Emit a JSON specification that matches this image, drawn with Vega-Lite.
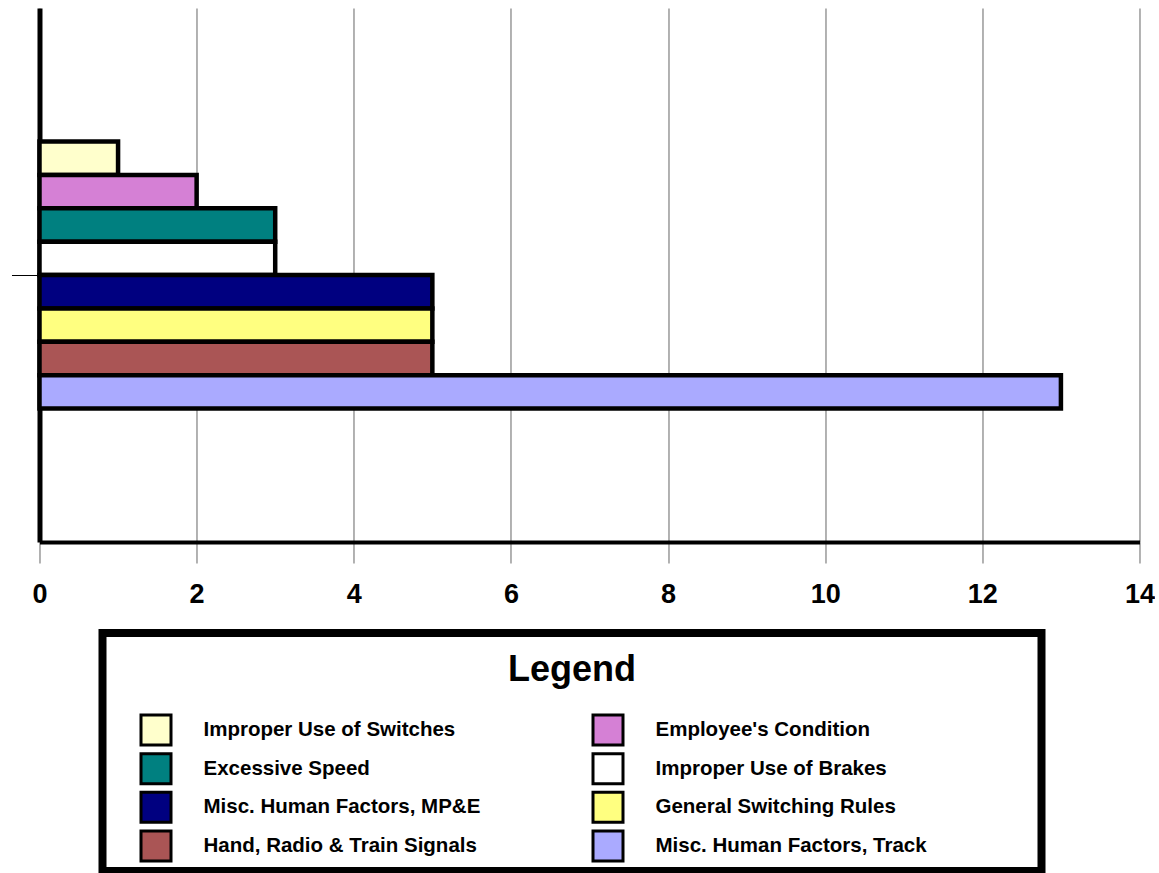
{
  "$schema": "https://vega.github.io/schema/vega-lite/v6.json",
  "padding": {"left": 10, "top": 8, "right": 0, "bottom": 0},
  "center": true,
  "spacing": 22,
  "datasets": {
    "causes": [
      {"order": 0, "cause": "Improper Use of Switches", "count": 1},
      {"order": 1, "cause": "Employee's Condition", "count": 2},
      {"order": 2, "cause": "Excessive Speed", "count": 3},
      {"order": 3, "cause": "Improper Use of Brakes", "count": 3},
      {"order": 4, "cause": "Misc. Human Factors, MP&E", "count": 5},
      {"order": 5, "cause": "General Switching Rules", "count": 5},
      {"order": 6, "cause": "Hand, Radio & Train Signals", "count": 5},
      {"order": 7, "cause": "Misc. Human Factors, Track", "count": 13}
    ]
  },
  "vconcat": [
    {
      "width": 1100,
      "height": 534,
      "data": {"name": "causes"},
      "mark": {"type": "bar", "stroke": "black", "strokeWidth": 4.5},
      "encoding": {
        "y": {
          "datum": "causes",
          "type": "nominal",
          "scale": {"paddingInner": 0, "paddingOuter": 0.5},
          "axis": {
            "title": null,
            "labels": false,
            "grid": false,
            "domain": true,
            "domainColor": "black",
            "domainWidth": 5,
            "ticks": true,
            "tickColor": "black",
            "tickWidth": 1,
            "tickSize": 28,
            "minExtent": 28,
            "maxExtent": 28
          }
        },
        "yOffset": {
          "field": "cause",
          "type": "nominal",
          "sort": {"field": "order"},
          "scale": {"paddingInner": 0, "paddingOuter": 0}
        },
        "x": {
          "field": "count",
          "type": "quantitative",
          "scale": {"domain": [0, 14], "nice": false},
          "axis": {
            "title": null,
            "values": [0, 2, 4, 6, 8, 10, 12, 14],
            "grid": true,
            "gridColor": "#666666",
            "gridWidth": 1,
            "domainColor": "black",
            "domainWidth": 4,
            "tickColor": "#666666",
            "tickWidth": 1,
            "tickSize": 21,
            "labelFont": "Liberation Sans",
            "labelFontWeight": "bold",
            "labelFontSize": 27,
            "labelColor": "black",
            "labelPadding": 18,
            "labelFlush": false,
            "labelOverlap": false
          }
        },
        "fill": {
          "field": "cause",
          "type": "nominal",
          "scale": {
            "domain": [
              "Improper Use of Switches",
              "Employee's Condition",
              "Excessive Speed",
              "Improper Use of Brakes",
              "Misc. Human Factors, MP&E",
              "General Switching Rules",
              "Hand, Radio & Train Signals",
              "Misc. Human Factors, Track"
            ],
            "range": ["#FFFFCC", "#D580D5", "#008080", "#FFFFFF", "#000080", "#FFFF80", "#AA5555", "#AAAAFF"]
          },
          "legend": null
        }
      }
    },
    {
      "width": 939,
      "height": 238,
      "view": {"stroke": "black", "strokeWidth": 8, "fill": "white"},
      "title": {
        "text": "Legend",
        "font": "Liberation Sans",
        "fontWeight": "bold",
        "fontSize": 36,
        "color": "black",
        "anchor": "middle",
        "frame": "group",
        "offset": -56
      },
      "data": {"name": "causes"},
      "transform": [
        {"calculate": "datum.order % 2", "as": "col"},
        {"calculate": "floor(datum.order / 2)", "as": "row"}
      ],
      "encoding": {
        "x": {
          "field": "col",
          "type": "quantitative",
          "scale": {"domain": [0, 1], "range": [53.5, 505.5]},
          "axis": null
        },
        "y": {
          "field": "row",
          "type": "quantitative",
          "scale": {"domain": [0, 3], "range": [97, 213]},
          "axis": {
            "orient": "right",
            "title": null,
            "labels": false,
            "ticks": false,
            "domain": false,
            "grid": false,
            "minExtent": 46,
            "maxExtent": 46
          }
        }
      },
      "layer": [
        {
          "mark": {"type": "square", "size": 900, "stroke": "black", "strokeWidth": 3, "opacity": 1, "filled": true},
          "encoding": {
            "fill": {"field": "cause", "type": "nominal", "legend": null}
          }
        },
        {
          "mark": {
            "type": "text",
            "align": "left",
            "baseline": "middle",
            "dx": 47.5,
            "font": "Liberation Sans",
            "fontWeight": "bold",
            "fontSize": 20.5,
            "color": "black"
          },
          "encoding": {"text": {"field": "cause"}}
        }
      ]
    }
  ],
  "config": {
    "font": "Liberation Sans",
    "view": {"stroke": null}
  }
}
